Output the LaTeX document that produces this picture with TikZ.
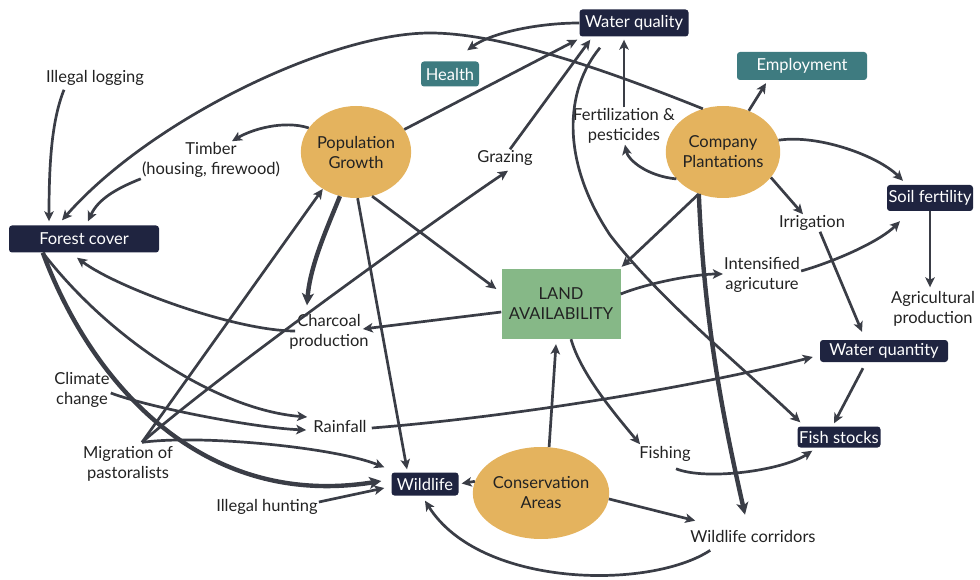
\documentclass[tikz,border=0pt]{standalone}
\usepackage{fontspec}
\setmainfont{Lato}
\usetikzlibrary{arrows.meta,shapes.geometric,calc}
\definecolor{navy}{HTML}{1F2440}
\definecolor{tealbox}{HTML}{3E7B80}
\definecolor{sand}{HTML}{E4B35E}
\definecolor{landgreen}{HTML}{86B887}
\definecolor{linec}{HTML}{3A3D46}
\definecolor{txt}{HTML}{222222}
\begin{document}
\begin{tikzpicture}[x=1pt,y=-1pt,
  font=\fontsize{16.5}{20}\selectfont,
  dbox/.style={fill=navy,text=white,rounded corners=3pt,inner sep=0pt,align=center},
  tbox/.style={fill=tealbox,text=white,rounded corners=3pt,inner sep=0pt,align=center},
  oell/.style={ellipse,fill=sand,text=txt,minimum width=108pt,minimum height=92pt,inner sep=0pt,align=center},
  landbox/.style={fill=landgreen,text=txt,inner sep=0pt,align=center},
  lbl/.style={text=txt,align=center,inner sep=1pt},
  arr/.style={draw=linec,line width=2.7pt,-{Stealth[length=10pt,width=9.5pt,inset=2.5pt]}},
  heavy/.style={draw=linec,line width=4.4pt,-{Stealth[length=12pt,width=12pt,inset=3pt]}}
]
\useasboundingbox (0,0) rectangle (980,580);

% nodes
\node[dbox,minimum width=109pt,minimum height=27pt] (wq) at (634,23) {Water quality};
\node[tbox,minimum width=58pt,minimum height=25pt] (health) at (450,74) {Health};
\node[tbox,minimum width=130pt,minimum height=28pt] (emp) at (802,66) {Employment};
\node[lbl] (illlog) at (95,78) {Illegal logging};
\node[oell] (pop) at (356,152) {Population\\Growth};
\node[lbl] (timber) at (211,160) {Timber\\(housing, firewood)};
\node[lbl] (grazing) at (505,158) {Grazing};
\node[lbl] (fert) at (624,126) {Fertilization \&\\pesticides};
\node[oell] (pla) at (723,152) {Company\\Plantations};
\node[dbox,minimum width=86pt,minimum height=26pt] (soil) at (930,198) {Soil fertility};
\node[dbox,minimum width=150pt,minimum height=27pt] (forest) at (84,239) {Forest cover};
\node[lbl] (irr) at (812,223) {Irrigation};
\node[landbox,minimum width=119pt,minimum height=70pt] (land) at (561,304) {LAND\\AVAILABILITY};
\node[lbl] (intens) at (762,275) {Intensified\\agricuture};
\node[lbl] (agri) at (933,309) {Agricultural\\production};
\node[lbl] (charcoal) at (329,332) {Charcoal\\production};
\node[dbox,minimum width=128pt,minimum height=22pt] (wqty) at (884,351) {Water quantity};
\node[lbl] (climate) at (82,390) {Climate\\change};
\node[lbl] (rain) at (340,426) {Rainfall};
\node[dbox,minimum width=83pt,minimum height=21pt] (fish) at (839,437) {Fish stocks};
\node[lbl] (fishing) at (665,454) {Fishing};
\node[lbl] (migr) at (128,464) {Migration of\\pastoralists};
\node[dbox,minimum width=67pt,minimum height=23pt] (wild) at (425,484) {Wildlife};
\node[oell] (cons) at (541,493) {Conservation\\Areas};
\node[lbl] (hunt) at (267,507) {Illegal hunting};
\node[lbl] (corr) at (753,536) {Wildlife corridors};

\coordinate (mg) at ([xshift=14pt,yshift=3pt]migr.north);
\coordinate (fo) at ([xshift=34pt]forest.south west);
\coordinate (fq) at (fert.north);

% connectors
\draw[arr] (wq.west) .. controls +(-40,0) and +(25,-18) .. ([xshift=-12pt,yshift=11pt]health.north east);
\draw[arr] (pla.115) .. controls +(-100,-40) and (500,33) .. (430,33) .. controls (330,33) and (150,120) .. ([xshift=-22pt,yshift=5pt]forest.north);
\draw[arr] ([xshift=-31pt,yshift=-3pt]illlog.south) .. controls +(-12,30) and +(0,-60) .. ([xshift=-35pt,yshift=4pt]forest.north);
\draw[arr] (timber.south west) .. controls +(-25,10) and +(10,-22) .. ([xshift=4pt,yshift=4pt]forest.north);
\draw[arr] (pop.153) .. controls +(-25,-8) and +(20,-12) .. ([xshift=21pt]timber.north);
\draw[arr] (pop.25) -- ([xshift=-2pt,yshift=-3pt]wq.south west);
\draw[arr] ([xshift=5pt]grazing.north) -- ([xshift=11pt,yshift=-3pt]wq.south west);
\draw[arr] ([xshift=-34pt,yshift=-11pt]wq.south) .. controls +(-35,42) and (560,160) .. (610,235) .. controls (660,300) and (740,365) .. ([xshift=3pt,yshift=4pt]fish.north west);
\draw[arr,shorten >=3pt] (fq) -- (fq |- wq.south);
\draw[arr] (pla.210) .. controls +(-30,-3) and +(3,15) .. ([xshift=1pt]fert.south);
\draw[arr] (pla.58) -- ([xshift=-36pt,yshift=-3pt]emp.south);
\draw[arr] (pla.12) .. controls +(40,-6) and +(-25,-25) .. ([xshift=-27pt,yshift=4pt]soil.north);
\draw[arr] (pla.332) -- ([xshift=-9pt]irr.north);
\draw[arr] (pla.240) -- ([xshift=1pt,yshift=2pt]land.north east);
\draw[heavy] (pla.240) .. controls +(5,120) and +(-25,-110) .. ([xshift=-8pt,yshift=14pt]corr.north);
\draw[arr,shorten >=3pt] (soil.south) -- (soil.south |- agri.north);
\draw[arr] ([xshift=8pt]irr.south) -- ([xshift=-22pt,yshift=8pt]wqty.north);
\draw[arr] ([yshift=4pt]intens.east) .. controls +(35,-10) and +(-20,20) .. ([xshift=-30pt,yshift=-10pt]soil.south);
\draw[arr] ([yshift=10pt]land.east) .. controls +(30,-12) and +(-25,0) .. ([yshift=1pt]intens.west);
\draw[arr] ([yshift=-8pt]land.west) -- ([xshift=-7pt,yshift=3pt]charcoal.east);
\draw[arr] ([xshift=10pt]land.south) .. controls +(10,35) and +(-25,-30) .. ([xshift=-25pt,yshift=1pt]fishing.north);
\draw[arr] (cons.80) -- ([xshift=-5pt,yshift=-5pt]land.south);
\draw[arr,shorten >=3pt] (cons.170) -- (wild.east);
\draw[arr] (cons.355) -- ([xshift=6pt,yshift=8pt]corr.north west);
\draw[arr] ([xshift=21pt,yshift=-7pt]corr.south west) .. controls (650,590) and (480,588) .. ([yshift=-5pt]wild.south);
\draw[arr] ([xshift=11pt,yshift=-6pt]fishing.south) .. controls +(30,12) and +(-30,20) .. ([xshift=15pt,yshift=-3pt]fish.south west);
\draw[arr] ([xshift=-21pt,yshift=-6pt]wqty.south) -- ([xshift=-5pt,yshift=3pt]fish.north);
\draw[arr] ([xshift=4pt,yshift=-2pt]rain.east) .. controls +(150,-12) and +(-110,28) .. ([xshift=-7pt,yshift=-6pt]wqty.west);
\draw[arr] (pop.290) -- ([xshift=-5pt,yshift=15pt]land.west);
\draw[heavy] (pop.250) .. controls +(-12,30) and +(3,-40) .. ([xshift=-22pt,yshift=8pt]charcoal.north);
\draw[arr] (pop.272) -- ([xshift=-18pt,yshift=3pt]wild.north);
\draw[arr] (mg) -- (pop.228);
\draw[arr] (mg) .. controls +(80,-70) and +(-60,40) .. ([xshift=3pt,yshift=-4pt]grazing.south);
\draw[arr] (mg) .. controls +(60,-8) and +(-50,-20) .. ([xshift=-7pt,yshift=5pt]wild.north west);
\draw[arr] ([xshift=7pt,yshift=1pt]charcoal.west) .. controls +(-60,0) and +(40,30) .. ([xshift=-7pt,yshift=-5pt]forest.south);
\draw[arr] (fo) .. controls +(67,87) and +(-89,-7) .. ([xshift=-5pt,yshift=9pt]rain.west);
\draw[heavy] (fo) .. controls (90,380) and (200,510) .. ([xshift=-10pt,yshift=3pt]wild.west);
\draw[arr] ([yshift=-3pt]climate.east) .. controls +(40,15) and +(-50,-2) .. ([xshift=-6pt,yshift=-4pt]rain.west);
\draw[arr] ([yshift=5pt]hunt.east) -- ([xshift=-7pt,yshift=-4pt]wild.west);
\end{tikzpicture}
\end{document}
